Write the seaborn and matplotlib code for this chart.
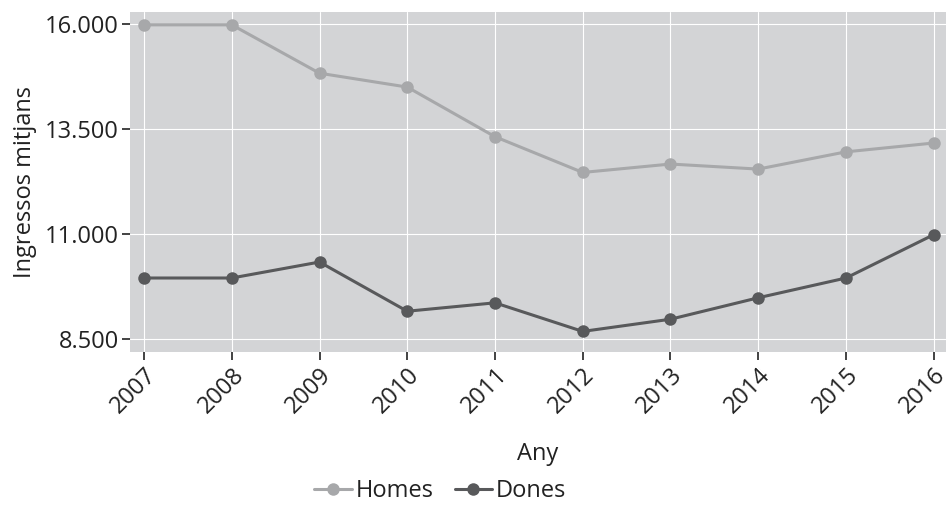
import pandas as pd
import seaborn as sns
import matplotlib.pyplot as plt
import matplotlib.ticker as mticker

# === Dades ===
anys = [2007, 2008, 2009, 2010, 2011, 2012, 2013, 2014, 2015, 2016]
homes = [15980, 15980, 14830, 14500, 13320, 12470, 12670, 12550, 12960, 13170]
dones = [9960, 9960, 10340, 9170, 9370, 8690, 8980, 9490, 9960, 10990]
series = ['Homes', 'Dones']
colors = ['#a7a8aa', '#58595b']
yticks = [8500, 11000, 13500, 16000]

df = pd.DataFrame({
    'Any': anys * 2,
    'Ingressos mitjans': homes + dones,
    'Sexe': ['Homes'] * len(anys) + ['Dones'] * len(anys),
})

# === Estil ===
sns.set_style('darkgrid', {
    'axes.facecolor': '#d3d4d6',
    'grid.color': 'white',
    'grid.linewidth': 1.4,
    'xtick.bottom': True,
    'ytick.left': True,
})
plt.rcParams['font.family'] = ['Open Sans', 'DejaVu Sans']
fs = 17

fig = plt.figure(figsize=(9.46, 5.09), dpi=100)
ax = fig.add_axes([0.1374, 0.3084, 0.8626, 0.668])

sns.lineplot(data=df, x='Any', y='Ingressos mitjans', hue='Sexe',
             hue_order=series, palette=colors, marker='o', markersize=9,
             markeredgewidth=0, linewidth=2.2, ax=ax)

for s in ax.spines.values():
    s.set_visible(False)

ax.set_xlim(2006.84, 2016.14)
ax.set_ylim(8200, 16285)
ax.set_xticks(anys)
ax.set_yticks(yticks)
ax.yaxis.set_major_formatter(mticker.FuncFormatter(lambda v, p: f'{v:,.0f}'.replace(',', '.')))
ax.tick_params(axis='both', colors='#222222', labelsize=fs, length=6, width=1.2, direction='out', pad=2)
plt.setp(ax.get_xticklabels(), rotation=45, ha='right', rotation_mode='anchor')

ax.set_xlabel('Any', fontsize=fs, color='#222222', labelpad=17)
ax.set_ylabel('Ingressos mitjans', fontsize=fs, color='#222222', labelpad=6)

leg = ax.legend(loc='center', bbox_to_anchor=(0.38, -0.41), ncol=2, frameon=False,
                fontsize=fs, handlelength=1.6, handletextpad=0.15, columnspacing=0.9)
for t in leg.get_texts():
    t.set_color('#222222')

fig.savefig('out.png', dpi=100)
